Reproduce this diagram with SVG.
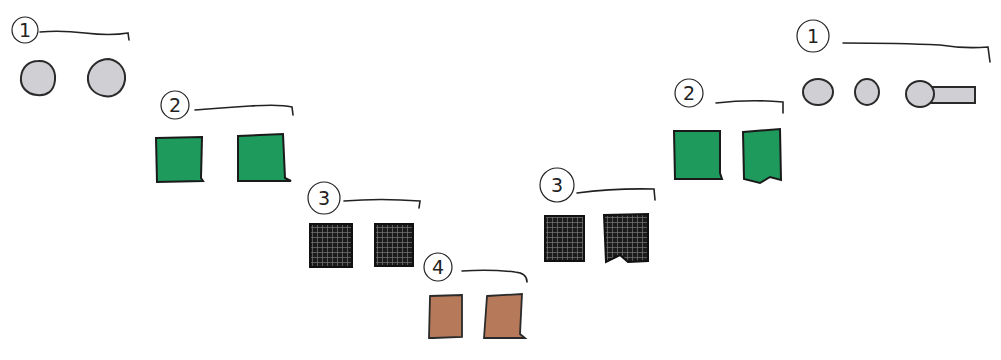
<svg xmlns="http://www.w3.org/2000/svg" width="1001" height="360" viewBox="0 0 1001 360">
<style>
.lbl{fill:none;stroke:#222;stroke-width:1.2}
.num{font-family:"DejaVu Sans",sans-serif;font-size:19px;fill:#222;text-anchor:middle;dominant-baseline:central}
.ln{fill:none;stroke:#222;stroke-width:1.6;stroke-linecap:round}
.gray{fill:#cfcfd4;stroke:#2a2a2a;stroke-width:2}
.green{fill:#1e9a5c;stroke:#1a1a1a;stroke-width:2}
.black{fill:url(#hatch);stroke:#111;stroke-width:2}
.brown{fill:#b67a5a;stroke:#2a2a2a;stroke-width:1.8}
</style>
<defs>
<pattern id="hatch" width="5" height="5" patternUnits="userSpaceOnUse">
<rect width="5" height="5" fill="#1b1b1b"/>
<path d="M0 2.5H5M2.5 0V5" stroke="#777" stroke-width="0.7"/>
</pattern>
</defs>
<rect width="1001" height="360" fill="#fff"/>
<g id="level1-left">
<circle class="lbl" cx="25" cy="30" r="13"/><text class="num" x="25" y="30">1</text>
<path class="ln" d="M40 32 Q60 30 85 33 T128 33 L129 40"/>
<path class="gray" d="M38 61 C50 60 56 70 55 80 C54 92 46 96 37 95 C26 94 20 86 21 77 C22 67 29 61 38 61Z"/>
<path class="gray" d="M109 59 C120 61 126 70 125 80 C123 92 114 98 104 96 C93 94 87 86 88 76 C90 66 98 59 109 59Z"/>
</g>
<g id="level2-left">
<circle class="lbl" cx="175" cy="105" r="14"/><text class="num" x="175" y="105">2</text>
<path class="ln" d="M195 110 Q220 108 250 106 T292 107 L293 115"/>
<path class="green" d="M156 138 L202 137 L201 178 L203 181 L157 182 Z"/>
<path class="green" d="M238 136 L283 134 L285 178 L291 181 L238 181 Z"/>
</g>
<g id="level3-left">
<circle class="lbl" cx="324" cy="198" r="16"/><text class="num" x="324" y="198">3</text>
<path class="ln" d="M344 201 Q380 198 420 201 L419 208"/>
<rect class="black" x="310" y="224" width="42" height="43"/>
<rect class="black" x="375" y="224" width="38" height="42"/>
</g>
<g id="level4">
<circle class="lbl" cx="438" cy="267" r="14"/><text class="num" x="438" y="267">4</text>
<path class="ln" d="M462 271 Q490 269 515 272 Q527 273 527 282"/>
<path class="brown" d="M430 296 L462 295 L462 337 L433 338 L429 338 Z"/>
<path class="brown" d="M487 296 L522 294 L520 334 L525 338 L484 338 Z"/>
</g>
<g id="level3-right">
<circle class="lbl" cx="557" cy="185" r="17"/><text class="num" x="557" y="185">3</text>
<path class="ln" d="M577 193 Q615 188 654 189 L655 200"/>
<rect class="black" x="545" y="216" width="39" height="45"/>
<path class="black" d="M604 215 L648 214 L648 261 L628 262 L620 255 L606 262 Z"/>
</g>
<g id="level2-right">
<circle class="lbl" cx="689" cy="93" r="14"/><text class="num" x="689" y="93">2</text>
<path class="ln" d="M716 103 Q750 99 783 102 L783 113"/>
<path class="green" d="M674 131 L720 131 L720 173 L722 179 L675 179 Z"/>
<path class="green" d="M743 132 L780 129 L781 180 L770 177 L760 183 L744 179 Z"/>
</g>
<g id="level1-right">
<circle class="lbl" cx="813" cy="36" r="16"/><text class="num" x="813" y="36">1</text>
<path class="ln" d="M843 43 Q900 43 940 45 Q965 49 988 47 L990 62"/>
<ellipse class="gray" cx="818" cy="92" rx="15" ry="13"/>
<ellipse class="gray" cx="867" cy="92" rx="12" ry="13"/>
<rect class="gray" x="928" y="87" width="47" height="16"/>
<ellipse class="gray" cx="920" cy="94" rx="14" ry="13"/>
</g>
<g id="connectors"/>
</svg>
